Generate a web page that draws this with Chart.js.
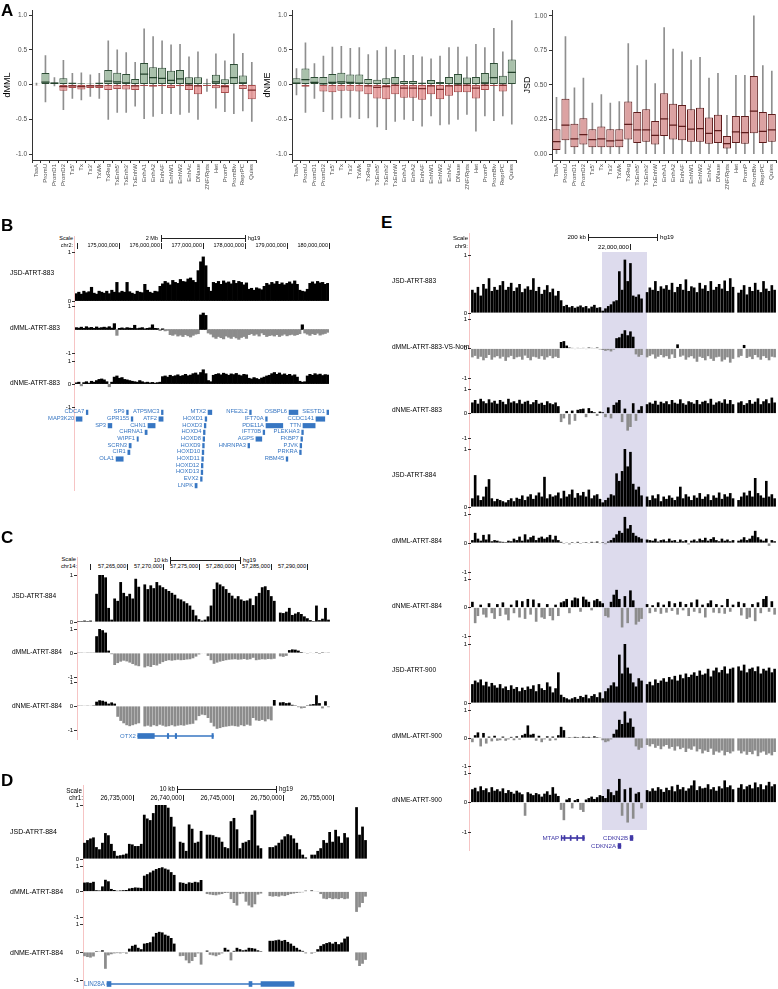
<!DOCTYPE html>
<html><head><meta charset="utf-8">
<script src="https://cdn.jsdelivr.net/npm/chart.js"></script>
<style>
html,body{margin:0;padding:0;background:#fff;}
body{position:relative;width:778px;height:989px;overflow:hidden;font-family:"Liberation Sans",Arial,Helvetica,sans-serif;}
.t{position:absolute;white-space:nowrap;color:#000;}
.l{position:absolute;}
canvas{position:absolute;z-index:2;}
</style></head><body>
<script>
// ---------------- Panel A data ----------------
const states = ['TssA','PromU','PromD1','PromD2',"Tx5'",'Tx',"Tx3'",'TxWk','TxReg',"TxEnh5'","TxEnh3'",'TxEnhW','EnhA1','EnhA2','EnhAF','EnhW1','EnhW2','EnhAc','DNase','ZNF/Rpts','Het','PromP','PromBiv','ReprPC','Quies'];

const dmmlGreenQ3 = [0.01,0.165,0.03,0.09,0.03,0.02,0.015,0.03,0.21,0.17,0.15,0.08,0.31,0.25,0.24,0.20,0.21,0.105,0.105,0.02,0.14,0.075,0.295,0.13,0.005];
const dmmlGreenMed = [null,0.035,0.02,null,null,null,null,null,0.05,0.04,0.025,null,0.15,0.10,0.09,0.06,0.08,0.015,null,null,0.04,null,0.10,0.025,null];
const dmmlRedQ1 = [-0.01,-0.005,-0.005,-0.09,-0.05,-0.07,-0.05,-0.05,-0.08,-0.065,-0.07,-0.08,-0.02,-0.03,-0.025,-0.05,-0.025,-0.08,-0.14,-0.02,-0.055,-0.12,-0.01,-0.065,-0.21];
const dmmlRedMed = [null,null,null,-0.03,-0.02,-0.03,-0.02,-0.02,null,null,null,-0.02,null,null,null,null,null,-0.01,-0.02,null,null,-0.03,null,null,-0.08];
const dmmlWhiskLo = [-0.01,-0.25,-0.02,-0.36,-0.2,-0.22,-0.17,-0.2,-0.5,-0.4,-0.4,-0.31,-0.49,-0.46,-0.42,-0.42,-0.43,-0.4,-0.5,-0.1,-0.34,-0.39,-0.42,-0.38,-0.53];
const dmmlWhiskHi = [0.02,0.415,0.1,0.35,0.16,0.17,0.14,0.16,0.63,0.5,0.46,0.32,0.8,0.69,0.63,0.57,0.58,0.4,0.47,0.08,0.44,0.34,0.73,0.45,0.32];

const dnmeGreenQ3 = [0.09,0.23,0.11,0.11,0.15,0.17,0.145,0.145,0.08,0.07,0.09,0.11,0.05,0.05,0.03,0.065,0.035,0.11,0.15,0.10,0.11,0.165,0.31,0.125,0.36];
const dnmeGreenMed = [0.02,0.07,0.03,0.01,0.03,0.04,0.03,0.02,null,null,null,null,null,null,null,null,null,null,0.01,null,null,0.025,0.10,null,0.175];
const dnmeRedQ1 = [-0.005,-0.03,-0.005,-0.10,-0.11,-0.09,-0.09,-0.10,-0.14,-0.20,-0.21,-0.14,-0.19,-0.19,-0.22,-0.14,-0.21,-0.16,-0.11,-0.11,-0.20,-0.08,-0.02,-0.10,-0.005];
const dnmeRedMed = [null,null,null,null,null,null,null,null,-0.02,-0.04,-0.03,-0.01,-0.05,-0.05,-0.06,-0.02,-0.07,-0.02,-0.01,-0.01,-0.05,-0.01,null,-0.01,null];
const dnmeWhiskLo = [-0.15,-0.4,-0.2,-0.39,-0.5,-0.48,-0.47,-0.49,-0.48,-0.61,-0.65,-0.53,-0.5,-0.52,-0.6,-0.45,-0.58,-0.57,-0.5,-0.43,-0.67,-0.45,-0.52,-0.45,-0.57];
const dnmeWhiskHi = [0.23,0.6,0.3,0.41,0.54,0.55,0.52,0.53,0.43,0.49,0.54,0.5,0.42,0.42,0.4,0.37,0.41,0.53,0.54,0.4,0.58,0.53,0.81,0.47,0.92];

const jsdQ1 = [0.03,0.10,0.05,0.07,0.05,0.05,0.05,0.05,0.105,0.08,0.09,0.07,0.13,0.105,0.10,0.09,0.09,0.075,0.08,0.04,0.08,0.075,0.15,0.08,0.09];
const jsdQ3 = [0.18,0.40,0.22,0.26,0.18,0.20,0.18,0.18,0.38,0.305,0.325,0.24,0.44,0.365,0.355,0.325,0.335,0.265,0.285,0.13,0.275,0.275,0.565,0.305,0.29];
const jsdMed = [0.09,0.21,0.11,0.14,0.105,0.11,0.095,0.10,0.215,0.175,0.175,0.135,0.255,0.21,0.20,0.18,0.185,0.15,0.17,0.075,0.16,0.155,0.31,0.165,0.175];
const jsdWhiskLo = [0,0,0,0,0,0,0,0,0,0,0,0,0,0,0,0,0,0,0,0,0,0,0,0,0];
const jsdWhiskHi = [0.41,0.85,0.48,0.55,0.37,0.43,0.37,0.38,0.80,0.64,0.68,0.51,0.915,0.76,0.74,0.68,0.70,0.55,0.585,0.28,0.57,0.57,1.0,0.64,0.60];

// ---------------- Panel B data (chr2) ----------------
const bJsd883 = [.15,.18,.14,.20,.17,.19,.28,.16,.14,.20,
 .18,.16,.20,.15,.22,.18,.38,.17,.20,.18,
 .38,.19,.16,.14,.20,.18,.17,.34,.22,.18,
 .16,.20,.19,.30,.35,.40,.37,.33,.42,.38,
 .36,.44,.40,.39,.45,.47,.42,.38,.62,.80,
 .90,.72,.28,.20,.38,.36,.40,.34,.41,.37,
 .39,.35,.42,.36,.40,.38,.33,.37,.24,.26,
 .22,.27,.25,.23,.30,.36,.33,.38,.35,.40,
 .34,.37,.33,.36,.39,.35,.41,.34,.22,.20,
 .19,.24,.36,.39,.35,.40,.37,.38,.34,.36];
const bDmml883 = [.08,.06,.10,.05,.12,.07,.09,.05,.11,.06,
 .08,.10,.07,.12,.06,.25,-.25,.05,.07,.04,
 .08,.06,.05,.18,.04,.06,.08,.03,.05,.07,
 .20,.05,.04,-.05,.03,-.06,-.04,-.22,-.25,-.20,
 -.28,-.24,-.30,-.22,-.27,-.32,-.25,-.20,-.18,.62,
 .70,.60,-.15,-.20,-.32,-.38,-.30,-.35,-.40,-.28,
 -.33,-.38,-.30,-.36,-.42,-.34,-.30,-.38,-.22,-.18,
 -.25,-.20,-.28,-.15,-.22,-.30,-.26,-.24,-.28,-.22,
 -.30,-.25,-.20,-.27,-.23,-.21,-.25,-.22,-.18,.20,
 -.15,-.20,-.25,-.18,-.22,-.16,-.24,-.20,-.17,-.12];
const bDnme883 = [.05,.08,-.08,.06,.10,.04,.12,.08,.15,.20,
 .22,.18,.10,-.12,.08,.30,.35,.25,.28,.20,
 .18,.15,.12,.10,.08,.15,.10,.06,.08,.05,
 .07,.04,.06,.08,.32,.35,.30,.38,.33,.36,
 .40,.34,.37,.42,.36,.39,.45,.48,.40,.50,
 .62,.45,.15,.10,.38,.42,.45,.40,.47,.43,
 .38,.44,.41,.46,.39,.36,.42,.40,.25,.22,
 .28,.24,.20,.26,.30,.35,.38,.45,.50,.42,
 .48,.40,.44,.38,.42,.36,.40,.30,.12,.08,
 .10,.35,.42,.38,.45,.40,.43,.37,.41,.39];
const bCoordLabels = ['175,000,000','176,000,000','177,000,000','178,000,000','179,000,000','180,000,000'];
const bGeneNames = ['CDCA7','SP9','ATP5MC3','MTX2','NFE2L2','OSBPL6','SESTD1','MAP3K20','GPR155','ATF2','HOXD1','IFT70A','CCDC141','SP3','CHN1','HOXD3','PDE11A','TTN','CHRNA1','HOXD4','IFT70B','PLEKHA3','WIPF1','HOXD8','AGPS','FKBP7','SCRN3','HOXD9','HNRNPA3','PJVK','CIR1','HOXD10','PRKRA','OLA1','HOXD11','RBM45','HOXD12','HOXD13','EVX2','LNPK'];
const bGeneRows = [0,0,0,0,0,0,0,1,1,1,1,1,1,2,2,2,2,2,3,3,3,3,4,4,4,4,5,5,5,5,6,6,6,7,7,7,8,9,10,11];
const bGeneStart = [174.22,175.18,176.01,177.12,178.11,179.05,179.95,173.98,175.29,175.95,177.05,178.49,179.69,174.74,175.69,177.03,178.50,179.38,175.62,177.01,178.43,179.35,175.43,177.00,178.26,179.33,175.24,176.99,178.07,179.31,175.21,176.98,179.30,174.93,176.97,178.98,176.96,176.955,176.94,176.81];
const bGeneEnd = [174.26,175.22,176.05,177.21,178.15,179.26,180.0,174.12,175.33,176.05,177.09,178.53,179.90,174.83,175.86,177.07,178.90,179.67,175.67,177.05,178.47,179.39,175.46,177.04,178.40,179.37,175.29,177.03,178.11,179.35,175.26,177.02,179.34,175.10,177.01,179.02,177.00,176.995,176.98,176.86];

// ---------------- Panel C data (chr14, OTX2) ----------------
const cJsd884 = [.02,.02,.03,.02,.03,.01,.60,1.0,1.0,.95,
 .30,.05,.50,.45,.85,.62,.55,.60,.50,.92,
 .75,0,.80,.70,.78,.72,.85,.78,.74,.70,
 .66,.62,.58,.50,.48,.44,.40,.35,.26,.14,
 .06,.03,.05,.12,.35,.70,.84,.80,.76,.70,
 .62,.56,.50,.55,.48,.45,.46,.50,.36,.55,
 .62,.74,.76,.68,.55,.45,0,.20,.19,.22,
 .30,.15,.18,.21,.17,.12,.08,.04,.02,.35,
 .04,.07,.30,.05];
const cDmml884 = [.01,.01,.02,.01,.01,.01,.70,1.0,.95,.85,
 .10,-.05,-.50,-.42,-.36,-.32,-.35,-.40,-.46,-.52,
 -.55,0,-.60,-.55,-.58,-.50,-.52,-.45,-.38,-.33,
 -.30,-.32,-.30,-.28,-.30,-.29,-.27,-.26,-.22,-.15,
 -.06,-.02,-.02,-.12,-.30,-.45,-.40,-.36,-.33,-.30,
 -.28,-.27,-.26,-.28,-.27,-.25,-.28,-.26,-.20,-.30,
 -.28,-.26,-.27,-.25,-.26,-.24,0,-.14,-.16,-.12,
 .12,.15,.14,.10,.04,.02,-.03,.02,-.02,.03,
 -.04,.03,.02,.01];
const cDnme884 = [.01,.01,.02,.01,.02,.03,.18,.24,.22,.18,
 .10,.15,.10,-.45,-.62,-.72,-.80,-.84,-.80,-.76,
 -.72,0,-.85,-.82,-.86,-.80,-.84,-.78,-.82,-.86,
 -.84,-.80,-.85,-.82,-.80,-.82,-.78,-.76,-.74,-.60,
 -.42,-.36,-.38,-.50,-.70,-.85,-.95,-.92,-.88,-.86,
 -.84,-.82,-.84,-.86,-.80,-.84,-.78,-.82,-.50,-.60,
 -.62,-.58,-.64,-.55,-.60,.25,0,.15,.16,.12,
 .14,.05,.03,-.05,-.10,-.08,.03,.06,.08,.45,
 .12,-.10,.20,-.05];
const cCoordLabels = ['57,265,000','57,270,000','57,275,000','57,280,000','57,285,000','57,290,000'];
const cGeneBody = [57266.5, 57277.0];
const cGeneExons = [[57266.5,57268.8],[57270.6,57270.8],[57271.7,57271.9],[57276.8,57277.0]];

// ---------------- Panel D data (chr1, LIN28A) ----------------
const dJsd884 = [.30,.35,.38,.40,.22,.18,.30,.48,.44,.28,
 .15,.06,.07,.08,.10,.28,.27,.24,.24,.28,
 .82,.75,.72,.85,1.0,1.0,1.0,1.0,.95,.78,
 .60,0,.32,.30,.15,.64,.56,.30,.32,.52,
 0,.45,.45,.44,.41,.40,.32,.22,.20,.70,
 .76,.55,.20,.30,.32,.35,.82,.90,.25,.20,
 0,0,.22,.22,.25,.30,.36,.42,.46,.44,
 .38,.30,.18,.08,.03,0,.08,.08,.15,.20,
 .35,.30,.50,.32,.54,.42,.30,.48,.40,0,
 0,.96,.45,.60,.35];
const dDmml884 = [.35,.36,.34,.38,.05,.04,.20,.46,.40,.10,
 .06,.03,.04,.05,.06,.12,.14,.16,.15,.14,
 .62,.68,.75,.82,.88,.92,.95,.90,.86,.76,
 .65,0,.36,.34,.30,.36,.34,.38,.36,.45,
 0,-.10,-.12,-.14,-.15,-.12,-.10,-.06,-.05,-.30,
 -.45,-.55,-.10,-.08,-.40,-.55,-.62,-.50,-.12,-.08,
 0,0,-.18,-.20,-.18,-.20,-.16,-.18,-.14,-.10,
 -.08,-.06,-.04,-.03,.03,0,.04,-.02,.02,-.10,
 -.28,-.30,-.26,-.30,-.28,-.30,-.26,-.30,-.28,0,
 0,-.80,-.62,-.45,-.20];
const dDnme884 = [-.15,-.18,-.20,-.16,.03,.02,.06,-.60,-.12,-.08,
 -.05,-.04,-.05,-.03,-.06,.12,.22,.26,.15,.10,
 .30,.32,.35,.55,.68,.72,.70,.62,.58,.50,
 .30,0,-.15,-.14,-.30,-.40,-.32,-.18,-.05,-.45,
 0,.05,-.10,-.12,-.15,-.10,-.05,.15,.08,-.30,
 .04,.15,.10,.06,.08,.15,.14,.12,.06,.03,
 0,0,.40,.40,.42,.44,.40,.43,.36,.30,
 .22,.15,.08,.04,-.05,0,-.06,-.03,.10,.22,
 .28,.32,.35,.30,.36,.28,.34,.48,.55,0,
 0,-.30,-.50,-.42,-.28];
const dCoordLabels = ['26,735,000','26,740,000','26,745,000','26,750,000','26,755,000'];
const dGeneBody = [26732.4, 26751.1];
const dGeneExons = [[26732.4,26732.8],[26746.6,26746.9],[26747.8,26751.1]];

// ---------------- Panel E data (chr9, CDKN2A/B) ----------------
const eJsd883 = [.40,.35,.45,.30,.50,.42,.60,.38,.45,.40,
 .48,.55,.40,.45,.52,.38,.44,.50,.36,.42,
 .46,.40,.60,.38,.45,.33,.40,.48,.36,.42,
 .30,.38,.22,.12,.14,.10,.12,.09,.11,.13,
 .10,.12,.08,.11,.14,.09,.10,.04,.08,.12,
 .15,.20,.22,.72,.40,.92,.55,.86,.30,.28,
 .32,.25,0,.36,.44,.40,.55,.38,.46,.42,
 .48,.40,.52,.36,.45,.50,.40,.58,.38,.46,
 .44,.36,.52,.42,.48,.38,.55,.40,.45,.50,
 .42,.56,.38,.60,.45,0,.35,.40,.48,.32,
 .45,.38,.52,.40,.36,.55,.42,.38,.48,.40];
const eDmml883 = [-.30,-.25,-.35,-.28,-.40,-.32,-.22,-.38,-.30,-.26,
 -.34,-.28,-.42,-.30,-.25,-.36,-.30,-.28,-.38,-.24,
 -.32,-.40,-.28,-.30,-.35,-.26,-.38,-.30,-.25,-.33,
 -.28,-.32,.22,.25,.10,.03,.02,-.02,.02,.01,
 .02,-.02,.03,.02,.01,.03,-.03,-.05,-.08,-.06,
 -.10,-.04,.35,.38,.50,.62,.45,.58,.40,-.20,
 -.28,-.22,0,-.30,-.25,-.20,-.34,-.28,-.22,-.30,
 -.26,-.35,-.20,-.32,.14,-.28,-.24,-.38,-.30,-.26,
 -.34,-.45,-.28,-.32,-.40,-.26,-.35,-.42,-.30,-.28,
 -.44,-.38,-.30,-.48,-.35,0,-.30,-.25,.12,-.32,
 -.28,-.36,-.22,-.30,-.38,-.26,-.32,-.40,-.28,-.30];
const eDnme883 = [.45,.55,.40,.60,.50,.42,.58,.45,.52,.40,
 .55,.48,.38,.60,.45,.50,.42,.56,.40,.48,
 .52,.38,.46,.55,.40,.44,.35,.50,.42,.38,
 .45,.30,-.35,-.20,.10,-.45,.12,-.30,.15,.18,
 .20,-.15,.22,.10,.05,-.10,.08,.05,-.15,.25,
 -.20,.35,.45,.55,-.35,.20,-.70,-.55,.42,-.30,
 .15,.30,0,.38,.45,.40,.52,.36,.48,.42,
 .50,.38,.55,.44,.40,.58,.42,.36,.50,.46,
 .40,.55,.38,.48,.52,.42,.60,.36,.45,.50,
 .44,.58,.40,.55,.38,0,.45,.50,.35,.42,
 .55,.40,.48,.62,.38,.50,.58,.42,.65,.45];
const eJsd884 = [.15,.55,.20,.12,.18,.35,.48,.15,.10,.14,
 .12,.10,.08,.12,.15,.10,.16,.14,.20,.12,
 .18,.22,.14,.20,.25,.18,.52,.15,.22,.18,
 .20,.25,.15,.28,.18,.22,.30,.16,.24,.20,
 .26,.18,.30,.15,.20,.22,.14,.08,.12,.16,
 .22,.20,.58,.45,.62,1.0,.70,.95,.40,.30,
 .35,.20,0,.18,.12,.20,.15,.22,.10,.18,
 .14,.20,.16,.12,.18,.35,.15,.22,.18,.12,
 .20,.16,.24,.14,.18,.22,.12,.20,.16,.25,
 .14,.22,.18,.24,.15,0,.12,.18,.25,.20,
 .28,.18,.50,.24,.20,.16,.45,.18,.22,.15];
const eDmml884 = [.10,.35,.15,.08,.28,.12,.30,.06,.10,.08,
 .05,.04,.03,.08,.06,.15,.10,.22,.08,.30,
 .12,.20,.25,.10,.18,.22,.15,.20,.28,.12,
 .25,.10,.04,-.03,.02,-.05,.03,-.02,.04,-.03,
 .02,.03,-.02,.04,.02,.05,-.02,.03,-.04,.05,
 .10,.18,.30,.42,.35,.90,.50,.62,.35,.25,
 .20,.15,0,.12,.10,.08,.15,.05,.10,.12,
 .06,.15,.08,.10,.04,.12,.06,.10,-.05,.08,
 .12,.06,.15,.10,.18,.08,.14,.20,.10,.06,
 .15,.08,.12,.06,.10,0,.08,.12,.20,.10,
 .15,.25,.42,.20,.12,.08,.15,-.10,.10,.06];
const eDnme884 = [.20,-.55,-.30,.10,-.25,-.35,.15,-.20,-.40,.12,
 -.30,.18,-.25,-.45,.10,-.20,.25,-.35,.22,-.40,
 .30,-.25,.28,-.50,.15,-.35,-.40,.12,-.30,-.45,
 .10,-.30,.18,.22,.30,-.20,.25,.35,.32,-.15,
 .38,.28,.20,-.10,.25,.30,.22,.15,-.30,-.35,
 .20,.45,.62,.30,-.70,.40,-.55,.60,.25,-.60,
 -.50,-.40,0,.12,-.20,.08,-.15,.18,-.22,.10,
 -.18,.22,-.12,.15,-.25,.20,-.10,.12,-.30,.18,
 -.15,.28,-.20,.10,-.35,.15,.25,-.18,.12,-.20,
 .08,-.22,.30,-.15,.10,0,.20,-.28,.15,-.40,
 -.35,.12,-.48,.18,-.20,.30,.40,-.15,.22,-.25];
const eJsd900 = [.32,.38,.35,.40,.30,.36,.28,.34,.30,.26,
 .32,.25,.28,.22,.30,.24,.27,.20,.26,.22,
 .28,.24,.30,.20,.32,.25,.22,.35,.28,.18,
 .25,.52,.14,.10,.08,.06,.08,.10,.07,.12,
 .10,.14,.08,.12,.15,.10,.18,.08,.20,.25,
 .30,.35,.28,.82,.50,1.0,.60,.50,.35,.28,
 .42,.38,0,.32,.36,.30,.40,.34,.38,.42,
 .36,.44,.40,.46,.38,.48,.42,.50,.44,.48,
 .52,.46,.55,.48,.50,.58,.45,.55,.60,.52,
 .56,.62,.50,.58,.60,0,.62,.55,.65,.52,
 .58,.60,.54,.62,.50,.58,.55,.60,.52,.58];
const eDmml900 = [-.15,.10,.20,-.30,.18,-.20,.05,-.12,.08,-.10,
 -.08,.05,-.10,-.05,.04,-.08,.06,-.06,.10,.15,
 .45,.12,.15,-.10,.08,-.15,-.05,.06,-.10,.05,
 -.08,.10,.40,.28,.02,.03,.02,.04,.03,.02,
 .05,.03,.04,.02,.06,.03,.02,-.08,-.15,-.12,
 -.05,.15,.30,.65,.50,.95,.55,.70,.40,-.30,
 -.42,-.35,0,-.25,-.30,-.22,-.35,-.28,-.40,-.30,
 -.25,-.38,-.32,-.45,-.30,-.40,-.35,-.50,-.38,-.42,
 -.30,-.48,-.40,-.55,-.45,-.50,-.38,-.60,-.48,-.52,
 -.45,-.62,-.50,-.55,-.48,0,-.45,-.55,-.48,-.60,
 -.50,-.58,-.45,-.65,-.52,-.48,-.60,-.55,-.62,-.50];
const eDnme900 = [.45,.50,.38,.55,.42,.48,.35,.52,.40,.45,
 .38,.48,.32,.42,.36,.30,.40,.34,.28,-.45,
 .35,.30,.25,.32,.28,.20,.30,.38,.26,.52,
 .30,.22,-.25,-.60,.10,.15,-.20,.08,.12,-.25,
 -.32,.10,.15,.20,.12,.18,.25,.22,.15,.45,
 .35,.25,.40,.80,-.45,.45,-.68,.50,-.55,.30,
 .35,-.20,0,.42,.38,.48,.40,.52,.45,.36,
 .50,.42,.55,.38,.60,.45,.52,.40,.48,.58,
 .75,.42,.55,.48,.50,.62,.45,.52,.40,.55,
 .48,.75,.52,.58,.45,0,.50,.62,.45,.55,
 .60,.48,.68,.52,.62,.45,.58,.70,.55,.62];
const eGeneNames = ['MTAP','CDKN2B','CDKN2A'];
const eGeneRows = [0,0,1];
const eGeneBody = [[21800,21867],[22000,22008],[21965,21973]];
const eGeneExons = [[0,21800,21802],[0,21808,21811],[0,21826,21829],[0,21845,21848],[0,21862,21867],[0,22000,22008],[1,21965,21973]];
const eHighlight = [21918, 22049];

// ---------------- helpers ----------------
Chart.defaults.font.family = '"Liberation Sans", Arial, Helvetica, sans-serif';
Chart.defaults.animation = false;

function mkCanvas(left, top, w, h, z) {
  const c = document.createElement('canvas');
  c.width = w; c.height = h;
  c.style.left = left + 'px'; c.style.top = top + 'px';
  c.style.width = w + 'px'; c.style.height = h + 'px';
  if (z != null) c.style.zIndex = z;
  document.body.appendChild(c);
  return c;
}
function addText(str, x, y, o) {
  o = o || {};
  const d = document.createElement('div');
  d.className = 't';
  d.textContent = str;
  const fs = o.size || 7;
  d.style.fontSize = fs + 'px';
  d.style.lineHeight = fs + 'px';
  d.style.top = (y - fs / 2) + 'px';
  d.style.left = x + 'px';
  if (o.color) d.style.color = o.color;
  if (o.bold) d.style.fontWeight = 'bold';
  if (o.align === 'right') d.style.transform = 'translateX(-100%)';
  else if (o.align === 'center') d.style.transform = 'translateX(-50%)';
  if (o.clipW) { d.style.width = o.clipW + 'px'; d.style.overflow = 'hidden'; }
  d.style.zIndex = 3;
  document.body.appendChild(d);
  return d;
}
function addLine(x, y, w, h, color, z) {
  const d = document.createElement('div');
  d.className = 'l';
  d.style.left = x + 'px'; d.style.top = y + 'px';
  d.style.width = w + 'px'; d.style.height = h + 'px';
  d.style.background = color;
  d.style.zIndex = (z == null ? 3 : z);
  document.body.appendChild(d);
  return d;
}

// ---------------- Panel A: box plots ----------------
function medBars(arr, eps) { return arr.map(m => m == null ? null : [m - eps, m + eps]); }
function boxChart(plotL, plotR, yMin, yMax, title, tickVals, digits, datasets) {
  const AW = 30, XH = 40, TOP = 10, BOT = 160;
  const left = Math.round(plotL) - AW;
  const w = Math.round(plotR - plotL) + AW + 4;
  const c = mkCanvas(left, 0, w, BOT + XH, 2);
  new Chart(c, {
    type: 'bar',
    data: { labels: states, datasets: datasets },
    options: {
      responsive: false, animation: false, devicePixelRatio: 1, events: [],
      layout: { padding: { top: TOP, right: 0, left: 0, bottom: 0 } },
      plugins: { legend: { display: false }, tooltip: { enabled: false } },
      scales: {
        x: {
          ticks: { autoSkip: false, minRotation: 90, maxRotation: 90, font: { size: 6 }, color: '#4d4d4d', padding: 1 },
          grid: { drawOnChartArea: false, tickLength: 3, color: '#333' },
          border: { color: '#333' },
          afterFit: s => { s.height = XH; }
        },
        y: {
          min: yMin, max: yMax,
          afterFit: s => { s.width = AW; },
          afterBuildTicks: s => { s.ticks = tickVals.map(v => ({ value: v })); },
          ticks: { font: { size: 6.5 }, color: '#4d4d4d', padding: 2, callback: v => Number(v).toFixed(digits) },
          grid: { drawOnChartArea: false, tickLength: 3, color: '#333' },
          border: { color: '#333' },
          title: { display: true, text: title, font: { size: 9 }, color: '#000', padding: { top: 0, bottom: 1 } }
        }
      }
    }
  });
}
function diffSets(gq3, gmed, rq1, rmed, wlo, whi) {
  const common = { grouped: false, barPercentage: 0.9, categoryPercentage: 1 };
  return [
    Object.assign({ data: medBars(gmed, 0.009), backgroundColor: '#22402a', borderWidth: 0, order: 0 }, common),
    Object.assign({ data: medBars(rmed, 0.009), backgroundColor: '#7a2a2a', borderWidth: 0, order: 0 }, common),
    Object.assign({ data: rq1.map(q => [q, 0]), backgroundColor: 'rgba(232,150,150,0.85)', borderColor: '#a84c4c', borderWidth: 1, borderSkipped: false, order: 1 }, common),
    Object.assign({ data: gq3.map(q => [0, q]), backgroundColor: '#a9c1ab', borderColor: '#2e4d36', borderWidth: 1, borderSkipped: false, order: 2 }, common),
    { data: wlo.map((v, i) => [v, whi[i]]), backgroundColor: '#8f8f8f', barThickness: 1, grouped: false, order: 3 }
  ];
}
boxChart(31.5, 255.5, -1.085, 1.072, 'dMML', [-1, -0.5, 0, 0.5, 1], 1,
  diffSets(dmmlGreenQ3, dmmlGreenMed, dmmlRedQ1, dmmlRedMed, dmmlWhiskLo, dmmlWhiskHi));
boxChart(291.5, 515.5, -1.085, 1.072, 'dNME', [-1, -0.5, 0, 0.5, 1], 1,
  diffSets(dnmeGreenQ3, dnmeGreenMed, dnmeRedQ1, dnmeRedMed, dnmeWhiskLo, dnmeWhiskHi));
(function () {
  const common = { grouped: false, barPercentage: 0.9, categoryPercentage: 1 };
  boxChart(552, 776, -0.043, 1.043, 'JSD', [0, 0.25, 0.5, 0.75, 1], 2, [
    Object.assign({ data: medBars(jsdMed, 0.0045), backgroundColor: '#5e1c1c', borderWidth: 0, order: 0 }, common),
    Object.assign({ data: jsdQ1.map((v, i) => [v, jsdQ3[i]]), backgroundColor: '#dca2a2', borderColor: '#5e1c1c', borderWidth: 1, borderSkipped: false, order: 1 }, common),
    { data: jsdWhiskLo.map((v, i) => [v, jsdWhiskHi[i]]), backgroundColor: '#8f8f8f', barThickness: 1, grouped: false, order: 3 }
  ]);
})();

// ---------------- genome tracks ----------------
const AXW = 14;
function track(vals, x0, x1, yTop, yBot, isJSD, tickVals, barPct) {
  const padT = 5, padB = 5;
  const left = Math.round(x0) - AXW;
  const w = Math.round(x1 - x0) + AXW;
  const top = Math.round(yTop) - padT;
  const h = Math.round(yBot - yTop) + padT + padB;
  const c = mkCanvas(left, top, w, h, 2);
  new Chart(c, {
    type: 'bar',
    data: { labels: vals.map((_, i) => i), datasets: [{ data: vals, backgroundColor: vals.map(v => v < 0 ? '#8c8c8c' : '#000'), borderWidth: 0, barPercentage: barPct, categoryPercentage: 1 }] },
    options: {
      responsive: false, animation: false, devicePixelRatio: 1, events: [],
      layout: { padding: { top: padT, bottom: padB, left: 0, right: 0 } },
      plugins: { legend: { display: false }, tooltip: { enabled: false } },
      scales: {
        x: { display: false },
        y: {
          min: isJSD ? 0 : -1, max: 1,
          afterFit: s => { s.width = AXW; },
          afterBuildTicks: s => { s.ticks = tickVals.map(v => ({ value: v })); },
          ticks: { font: { size: 6 }, color: '#000', padding: 1, callback: v => String(v) },
          grid: { drawOnChartArea: false, drawTicks: true, tickLength: 3, color: '#000', lineWidth: 0.8 },
          border: { display: false }
        }
      }
    }
  });
}
function geneChart(x0, x1, yRow0, rowH, nRows, xmin, xmax, exons, bodies, color, exonH) {
  const left = Math.round(x0), top = Math.round(yRow0 - rowH / 2);
  const w = Math.round(x1 - x0), h = Math.round(nRows * rowH);
  const c = mkCanvas(left, top, w, h, 2);
  const ch = new Chart(c, {
    type: 'bar',
    data: { datasets: [
      { data: exons, backgroundColor: color, borderWidth: 0, barThickness: exonH, grouped: false },
      { data: bodies, backgroundColor: color, borderWidth: 0, barThickness: 1, grouped: false }
    ] },
    options: {
      indexAxis: 'y', responsive: false, animation: false, devicePixelRatio: 1, events: [],
      layout: { padding: 0 },
      plugins: { legend: { display: false }, tooltip: { enabled: false } },
      scales: {
        x: { type: 'linear', min: xmin, max: xmax, display: false, offset: false, grid: { offset: false } },
        y: { type: 'linear', min: -0.5, max: nRows - 0.5, reverse: true, display: false, offset: false, grid: { offset: false } }
      }
    }
  });
  return { ch: ch, left: left, top: top };
}
function geneLabels(g, names, rows, starts, color, size) {
  const xs = g.ch.scales.x, ys = g.ch.scales.y;
  names.forEach((n, i) => {
    const px = g.left + xs.getPixelForValue(starts[i]);
    const py = g.top + ys.getPixelForValue(rows[i]);
    addText(n, px - 2, py, { size: size, align: 'right', color: color });
  });
}
function scaleBar(x0, x1, y, label, labelEnd, fs) {
  addLine(x0, y, x1 - x0, 1, '#222');
  addLine(x0, y - 3, 1, 7, '#222');
  addLine(x1, y - 3, 1, 7, '#222');
  addText(label, labelEnd, y + 0.5, { size: fs, align: 'right' });
  addText('hg19', x1 + 3, y + 0.5, { size: fs });
}
function coordTicks(labels, xs, y, fs) {
  labels.forEach((lab, i) => {
    addText(lab, xs[i] - 1, y, { size: fs, align: 'right' });
    addLine(xs[i], y - 3, 1, 6, '#222');
  });
}

// Panel letters
addText('A', 1, 10, { size: 17, bold: true });
addText('B', 1, 225, { size: 17, bold: true });
addText('C', 1, 537, { size: 17, bold: true });
addText('D', 1, 780, { size: 17, bold: true });
addText('E', 381, 222, { size: 17, bold: true });

// ---------- Panel B ----------
addLine(74, 236, 1, 255, '#f6c4c4', 1);
addText('Scale', 73, 239, { size: 5.5, align: 'right' });
addText('chr2:', 73, 245.5, { size: 5.5, align: 'right' });
scaleBar(161, 245, 238, '2 Mb', 158, 5.5);
addLine(77, 242.5, 1, 6, '#222');
coordTicks(bCoordLabels, [119, 161, 203, 245, 287, 329], 245.5, 5.5);
track(bJsd883, 75, 329, 252, 301, true, [0, 1], 1);
track(bDmml883, 75, 329, 306, 353, false, [-1, 1], 1);
track(bDnme883, 75, 329, 361, 407, false, [-1, 0, 1], 1);
addText('JSD-ATRT-883', 10, 273, { size: 6.6 });
addText('dMML-ATRT-883', 10, 328, { size: 6.6 });
addText('dNME-ATRT-883', 10, 383, { size: 6.6 });
(function () {
  const ex = bGeneStart.map((s, i) => ({ y: bGeneRows[i], x: [s, bGeneEnd[i]] }));
  const g = geneChart(75, 329, 412.7, 6.67, 12, 173.952, 180.0, ex, [], '#3776c2', 4.5);
  geneLabels(g, bGeneNames, bGeneRows, bGeneStart, '#3776c2', 5.8);
})();

// ---------- Panel C ----------
addLine(77, 557, 1, 183, '#f6c4c4', 1);
addText('Scale', 76, 560, { size: 5.8, align: 'right' });
addText('chr14:', 77, 567, { size: 5.8, align: 'right' });
scaleBar(170, 240, 560, '10 kb', 168, 5.8);
addLine(90, 564, 1, 6, '#222');
coordTicks(cCoordLabels, [127, 163, 199, 235, 271, 307], 567, 5.6);
track(cJsd884, 77, 330, 575, 622, true, [0, 1], 0.92);
track(cDmml884, 77, 330, 629, 677, false, [-1, 0, 1], 0.92);
track(cDnme884, 77, 330, 682, 730, false, [-1, 0, 1], 0.92);
addText('JSD-ATRT-884', 12, 596, { size: 6.6 });
addText('dMML-ATRT-884', 12, 652, { size: 6.6 });
addText('dNME-ATRT-884', 12, 706, { size: 6.6 });
(function () {
  const ex = cGeneExons.map(e => ({ y: 0, x: e }));
  const g = geneChart(77, 330, 736, 8, 1, 57258.06, 57293.2, ex, [{ y: 0, x: cGeneBody }], '#3776c2', 5);
  geneLabels(g, ['OTX2'], [0], [cGeneBody[0]], '#3776c2', 6);
})();

// ---------- Panel D ----------
addLine(83, 785, 1, 204, '#f6c4c4', 1);
addText('Scale', 82, 791, { size: 6.3, align: 'right' });
addText('chr1:', 83, 798, { size: 6.3, align: 'right' });
scaleBar(177, 276, 789, '10 kb', 175, 6.3);
coordTicks(dCoordLabels, [133, 183, 233, 283, 333], 798, 6.3);
track(dJsd884, 83, 367, 805, 859, true, [0, 1], 0.92);
track(dDmml884, 83, 367, 866, 917, false, [-1, 0, 1], 0.92);
track(dDnme884, 83, 367, 924, 980, false, [-1, 0, 1], 0.92);
addText('JSD-ATRT-884', 10, 831, { size: 7 });
addText('dMML-ATRT-884', 10, 891, { size: 7 });
addText('dNME-ATRT-884', 10, 952, { size: 7 });
(function () {
  const ex = dGeneExons.map(e => ({ y: 0, x: e }));
  const g = geneChart(83, 367, 984, 8, 1, 26730.0, 26758.4, ex, [{ y: 0, x: dGeneBody }], '#3776c2', 5);
  geneLabels(g, ['LIN28A'], [0], [dGeneBody[0]], '#3776c2', 6.3);
})();

// ---------- Panel E ----------
addLine(469, 233, 1, 618, '#f6c4c4', 1);
addText('Scale', 468, 238, { size: 6, align: 'right' });
addText('chr9:', 468, 246, { size: 6, align: 'right' });
scaleBar(588, 657, 237, '200 kb', 586, 6.2);
coordTicks(['22,000,000'], [630], 247, 6.2);
(function () {
  const ex = eGeneExons.map(e => ({ y: e[0], x: [e[1], e[2]] }));
  const bodies = eGeneBody.map((b, i) => ({ y: eGeneRows[i], x: b }));
  const g = geneChart(470.7, 776, 838, 8, 2, 21538.3, 22423.2, ex, bodies, '#4038a6', 5);
  geneLabels(g, eGeneNames, eGeneRows, eGeneBody.map(b => b[0]), '#4038a6', 6.2);
  const hx0 = g.left + g.ch.scales.x.getPixelForValue(eHighlight[0]);
  const hx1 = g.left + g.ch.scales.x.getPixelForValue(eHighlight[1]);
  addLine(hx0, 252, hx1 - hx0, 578, '#dddbed', 1);
})();
const eTracks = [
  [eJsd883, 255, 313, true, 'JSD-ATRT-883', 281],
  [eDmml883, 319, 378, false, 'dMML-ATRT-883-VS-Norm', 347],
  [eDnme883, 389, 438, false, 'dNME-ATRT-883', 410],
  [eJsd884, 449, 507, true, 'JSD-ATRT-884', 475],
  [eDmml884, 514, 572, false, 'dMML-ATRT-884', 541],
  [eDnme884, 579, 636, false, 'dNME-ATRT-884', 606],
  [eJsd900, 644, 703, true, 'JSD-ATRT-900', 670],
  [eDmml900, 710, 766, false, 'dMML-ATRT-900', 736],
  [eDnme900, 773, 832, false, 'dNME-ATRT-900', 800]
];
eTracks.forEach(t => {
  track(t[0], 470.7, 776, t[1], t[2], t[3], t[3] ? [0, 1] : [-1, 0, 1], 0.95);
  addText(t[4], 392, t[5], { size: 6.6, clipW: t[3] ? null : 77 });
});
</script>
</body></html>
